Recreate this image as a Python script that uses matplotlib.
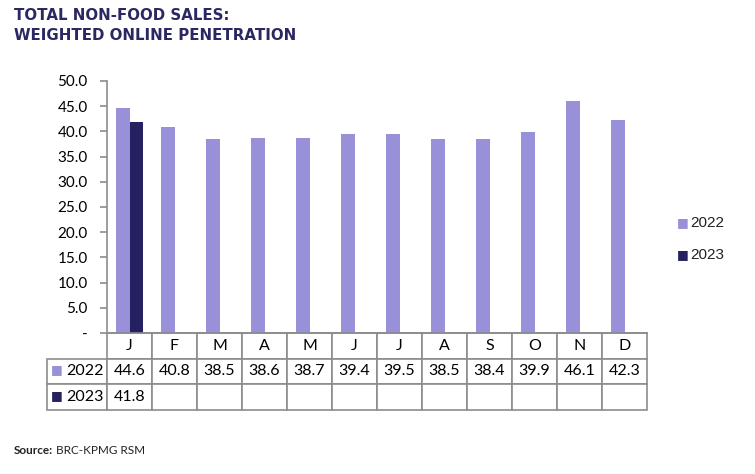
import matplotlib
matplotlib.use("Agg")
from matplotlib import pyplot as plt
import numpy as np

months = ['J', 'F', 'M', 'A', 'M', 'J', 'J', 'A', 'S', 'O', 'N', 'D']
sales_2022 = [44.6, 40.8, 38.5, 38.6, 38.7, 39.4, 39.5, 38.5, 38.4, 39.9, 46.1, 42.3]
sales_2023 = [41.8]
series_names = ['2022', '2023']
yticks = [0, 5, 10, 15, 20, 25, 30, 35, 40, 45, 50]

c22 = '#9890d8'
c23 = '#252060'
navy = '#2b2762'
grey = '#8c8c8c'

W, H = 755, 474
fig = plt.figure(figsize=(W / 100, H / 100), dpi=100)

# plot area in pixels
x0, x1 = 107, 647
y_top, y_bot = 81, 333
ax = fig.add_axes([x0 / W, 1 - y_bot / H, (x1 - x0) / W, (y_bot - y_top) / H])

x = np.arange(len(months))
bw = 0.29
ax.bar(x - bw / 2, sales_2022, bw, color=c22, label=series_names[0])
ax.bar(np.arange(len(sales_2023)) + bw / 2, sales_2023, bw, color=c23, label=series_names[1])

ax.set_xlim(-0.5, len(months) - 0.5)
ax.set_ylim(0, 50)
ax.set_yticks(yticks)
ax.set_yticklabels(['-'] + ['%.1f' % v for v in yticks[1:]], fontfamily='Lato', fontsize=11)
ax.set_xticks([])
ax.tick_params(axis='y', length=5, color=grey, width=1.2, pad=9)
for s in ['top', 'right']:
    ax.spines[s].set_visible(False)
for s in ['left', 'bottom']:
    ax.spines[s].set_color(grey)
    ax.spines[s].set_linewidth(1.2)

# data table below the axis
lab_w = 60 / (x1 - x0)
col_w = 1 / len(months)
rows = [[''] + months,
        ['2022'] + ['%.1f' % v for v in sales_2022],
        ['2023'] + ['%.1f' % v for v in sales_2023] + [''] * (len(months) - len(sales_2023))]
tab_h = 77 / (y_bot - y_top)
tab = ax.table(cellText=rows, colWidths=[lab_w] + [col_w] * len(months),
               cellLoc='center', bbox=[-lab_w, -tab_h, 1 + lab_w, tab_h])
tab.auto_set_font_size(False)
for (r, c), cell in tab.get_celld().items():
    cell.set_edgecolor(grey)
    cell.set_linewidth(1.2)
    cell.get_text().set_fontsize(11.5)
    cell.get_text().set_fontfamily('Lato')
    if c == 0:
        cell.get_text().set_ha('right')
        cell._loc = 'right'
        cell.PAD = 0.05
tab[0, 0].visible_edges = ''

# coloured squares in the row labels
for i, col in enumerate([c22, c23]):
    yy = 1 - (357 + 13 + i * 26) / H
    fig.text(51 / W, yy, '\u25a0', color=col, fontsize=9, va='center', ha='left',
             fontfamily='DejaVu Sans')

# legend on the right
for i, (name, col) in enumerate(zip(series_names, [c22, c23])):
    yy = 1 - (223 + i * 32) / H
    fig.text(677 / W, yy, '\u25a0', color=col, fontsize=9, va='center', fontfamily='DejaVu Sans')
    fig.text(690 / W, yy, name, color='#222222', fontsize=11, va='center',
             fontfamily='Liberation Sans')

fig.text(14 / W, 1 - 15 / H, 'TOTAL NON-FOOD SALES:', color=navy, fontsize=10.8,
         fontweight='bold', fontfamily='DejaVu Sans', va='center')
fig.text(14 / W, 1 - 36 / H, 'WEIGHTED ONLINE PENETRATION', color=navy, fontsize=10.8,
         fontweight='bold', fontfamily='DejaVu Sans', va='center')

fig.text(14 / W, 1 - 451 / H, 'Source:', fontsize=8.5, fontweight='bold', fontfamily='Lato',
         color='#222222', va='center')
fig.text(56 / W, 1 - 451 / H, 'BRC-KPMG RSM', fontsize=8.5, fontfamily='Lato',
         color='#222222', va='center')

fig.savefig('out.png', dpi=100)
